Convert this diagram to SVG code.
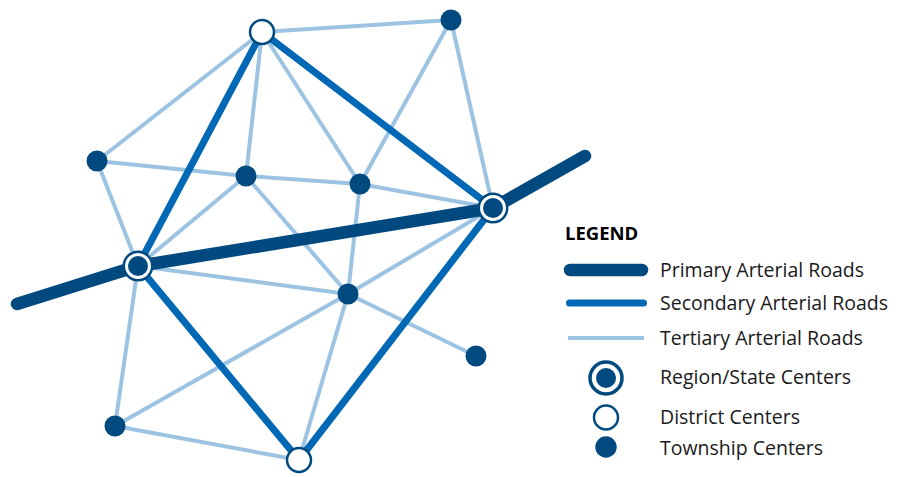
<svg xmlns="http://www.w3.org/2000/svg" width="898" height="477" viewBox="0 0 898 477">
  <style>
    .primary { stroke: #004a80; stroke-width: 12.5; stroke-linecap: round; stroke-linejoin: round; fill: none; }
    .secondary { stroke: #0068b4; stroke-width: 7; stroke-linecap: round; fill: none; }
    .tertiary { stroke: #9dc3e3; stroke-width: 4; stroke-linecap: butt; fill: none; }
    .township { fill: #004a80; }
    .district { fill: #ffffff; stroke: #004a80; stroke-width: 2.5; }
    .region-ring { fill: #ffffff; stroke: #004a80; stroke-width: 2.5; }
    .region-core { fill: #004a80; }
    .label { font-family: "Open Sans", "Liberation Sans", sans-serif; font-size: 19.5px; fill: #1a1a1a; }
    .title { font-family: "Open Sans", "Liberation Sans", sans-serif; font-size: 18.5px; font-weight: bold; fill: #000000; }
  </style>

  <rect width="898" height="477" fill="#ffffff"/>

  <!-- road network -->
  <g id="connectors">
    <g id="tertiary-roads">
      <line class="tertiary" x1="262" y1="32" x2="451" y2="20"/>
      <line class="tertiary" x1="451" y1="20" x2="493" y2="208"/>
      <line class="tertiary" x1="451" y1="20" x2="360" y2="184"/>
      <line class="tertiary" x1="262" y1="32" x2="97" y2="161"/>
      <line class="tertiary" x1="262" y1="32" x2="246" y2="176"/>
      <line class="tertiary" x1="262" y1="32" x2="360" y2="184"/>
      <line class="tertiary" x1="97" y1="161" x2="246" y2="176"/>
      <line class="tertiary" x1="246" y1="176" x2="360" y2="184"/>
      <line class="tertiary" x1="360" y1="184" x2="493" y2="208"/>
      <line class="tertiary" x1="97" y1="161" x2="138" y2="266"/>
      <line class="tertiary" x1="246" y1="176" x2="138" y2="266"/>
      <line class="tertiary" x1="246" y1="176" x2="348" y2="294"/>
      <line class="tertiary" x1="360" y1="184" x2="348" y2="294"/>
      <line class="tertiary" x1="138" y1="266" x2="348" y2="294"/>
      <line class="tertiary" x1="348" y1="294" x2="493" y2="208"/>
      <line class="tertiary" x1="348" y1="294" x2="476" y2="356"/>
      <line class="tertiary" x1="348" y1="294" x2="115" y2="426"/>
      <line class="tertiary" x1="348" y1="294" x2="299" y2="460"/>
      <line class="tertiary" x1="138" y1="266" x2="115" y2="426"/>
      <line class="tertiary" x1="115" y1="426" x2="299" y2="460"/>
    </g>
    <g id="secondary-roads">
      <line class="secondary" x1="138" y1="266" x2="262" y2="32"/>
      <line class="secondary" x1="262" y1="32" x2="493" y2="208"/>
      <line class="secondary" x1="138" y1="266" x2="299" y2="460"/>
      <line class="secondary" x1="299" y1="460" x2="493" y2="208"/>
    </g>
    <g id="primary-roads">
      <polyline class="primary" points="17,304 138,266 493,208 585,156"/>
    </g>
  </g>

  <!-- region / state centers -->
  <g id="region-west">
    <circle class="region-ring" cx="138" cy="266" r="14.2"/>
    <circle class="region-core" cx="138" cy="266" r="10"/>
  </g>
  <g id="region-east">
    <circle class="region-ring" cx="493" cy="208" r="14.2"/>
    <circle class="region-core" cx="493" cy="208" r="10"/>
  </g>

  <!-- district centers -->
  <g id="district-north">
    <circle class="district" cx="262" cy="32" r="12"/>
  </g>
  <g id="district-south">
    <circle class="district" cx="299" cy="460" r="12"/>
  </g>

  <!-- township centers -->
  <g id="township-1"><circle class="township" cx="451" cy="20" r="10.5"/></g>
  <g id="township-2"><circle class="township" cx="97" cy="161" r="10.5"/></g>
  <g id="township-3"><circle class="township" cx="246" cy="176" r="10.5"/></g>
  <g id="township-4"><circle class="township" cx="360" cy="184" r="10.5"/></g>
  <g id="township-5"><circle class="township" cx="348" cy="294" r="10.5"/></g>
  <g id="township-6"><circle class="township" cx="476" cy="356" r="10.5"/></g>
  <g id="township-7"><circle class="township" cx="115" cy="426" r="10.5"/></g>

  <!-- legend -->
  <g id="legend">
    <text class="title" x="565" y="240">LEGEND</text>

    <line x1="570" y1="270" x2="642" y2="270" stroke="#004a80" stroke-width="12.5" stroke-linecap="round"/>
    <text class="label" x="660" y="277">Primary Arterial Roads</text>

    <line x1="569.5" y1="303" x2="643.5" y2="303" stroke="#0068b4" stroke-width="7" stroke-linecap="round"/>
    <text class="label" x="660" y="310">Secondary Arterial Roads</text>

    <line x1="568" y1="338" x2="644" y2="338" stroke="#9dc3e3" stroke-width="4"/>
    <text class="label" x="660" y="345">Tertiary Arterial Roads</text>

    <circle cx="606" cy="378" r="16" fill="#ffffff" stroke="#004a80" stroke-width="3.5"/>
    <circle cx="606" cy="378" r="10" fill="#004a80"/>
    <text class="label" x="660" y="384">Region/State Centers</text>

    <circle cx="606" cy="417.5" r="12" fill="#ffffff" stroke="#004a80" stroke-width="2.5"/>
    <text class="label" x="660" y="424">District Centers</text>

    <circle cx="606" cy="447" r="10.7" fill="#004a80"/>
    <text class="label" x="660" y="455">Township Centers</text>
  </g>
</svg>
